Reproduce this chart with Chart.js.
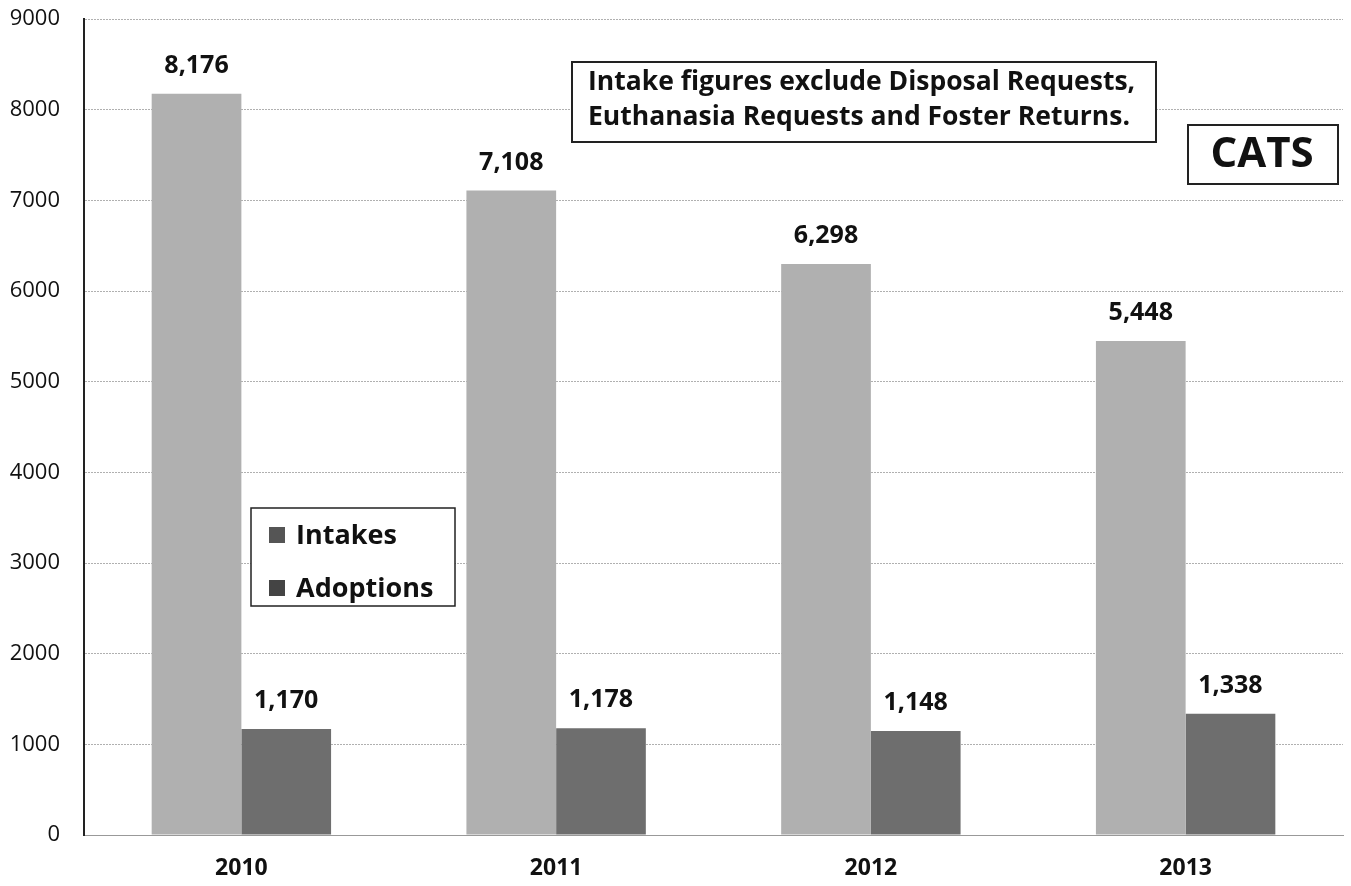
<!DOCTYPE html>
<html><head><meta charset="utf-8">
<script src="https://cdn.jsdelivr.net/npm/chart.js@4"></script>
<style>html,body{margin:0;padding:0;background:#fff}#wrap{width:1351px;height:886px}</style>
</head><body><div id="wrap"><canvas id="c" width="1351" height="886"></canvas></div>
<script>
const categories = ['2010','2011','2012','2013'];
const intakes = [8176, 7108, 6298, 5448];
const adoptions = [1170, 1178, 1148, 1338];
const seriesNames = ['Intakes','Adoptions'];
const yTicks = [0,1000,2000,3000,4000,5000,6000,7000,8000,9000];
const noteLines = ['Intake figures exclude Disposal Requests,','Euthanasia Requests and Foster Returns.'];
const badgeText = 'CATS';

const FONT = '"Open Sans", sans-serif';

const overlay = {
  id:'overlay',
  afterDatasetsDraw(chart){
    const ctx = chart.ctx;
    ctx.save();
    // data labels
    ctx.font = 'bold 25px ' + FONT;
    ctx.fillStyle = '#111';
    ctx.textAlign = 'center';
    ctx.textBaseline = 'middle';
    chart.data.datasets.forEach((ds,i)=>{
      chart.getDatasetMeta(i).data.forEach((bar,j)=>{
        ctx.fillText(ds.data[j].toLocaleString('en-US'), bar.x, bar.y - 28);
      });
    });
    // note box
    ctx.fillStyle='#fff';
    ctx.fillRect(572,62,584,80);
    ctx.strokeStyle='#222'; ctx.lineWidth=2;
    ctx.strokeRect(572,62,584,80);
    ctx.fillStyle='#111';
    ctx.textAlign='left';
    ctx.font='bold 26.5px ' + FONT;
    ctx.fillText(noteLines[0],588,82);
    ctx.fillText(noteLines[1],588,117);
    // badge
    ctx.fillStyle='#fff';
    ctx.fillRect(1188,125,150,59);
    ctx.strokeRect(1188,125,150,59);
    ctx.fillStyle='#111';
    ctx.textAlign='center';
    ctx.font='bold 42px ' + FONT;
    ctx.fillText(badgeText,1262,155);
    // legend
    ctx.fillStyle='#fff';
    ctx.fillRect(251,508,204,98);
    ctx.lineWidth=1.5;
    ctx.strokeRect(251,508,204,98);
    ctx.textAlign='left';
    ctx.font='bold 27px ' + FONT;
    const ly=[535,588];
    chart.data.datasets.forEach((ds,i)=>{
      ctx.fillStyle = ds.legendColor;
      ctx.fillRect(269,ly[i]-8,16,16);
      ctx.fillStyle='#111';
      ctx.fillText(ds.label,296,ly[i]+1);
    });
    ctx.restore();
  }
};

new Chart(document.getElementById('c'),{
  type:'bar',
  data:{
    labels:categories,
    datasets:[
      {label:seriesNames[0],data:intakes,backgroundColor:'#b0b0b0',legendColor:'#555',borderWidth:0},
      {label:seriesNames[1],data:adoptions,backgroundColor:'#6e6e6e',legendColor:'#444',borderWidth:0}
    ]
  },
  options:{
    responsive:false,
    animation:false,
    layout:{padding:{top:19,right:8,bottom:0,left:0}},
    plugins:{legend:{display:false},tooltip:{enabled:false}},
    datasets:{bar:{categoryPercentage:0.57,barPercentage:1.0}},
    scales:{
      x:{
        afterFit(s){s.height=51;},
        grid:{display:false,drawTicks:false},
        border:{color:'#999',width:1,dash:[2,2]},
        ticks:{padding:20,color:'#111',font:{family:FONT,size:23,weight:'bold'}}
      },
      y:{
        min:0,max:9000,
        afterFit(s){s.width=84; s.paddingTop=0; s.paddingBottom=0;},
        afterBuildTicks(s){s.ticks=yTicks.map(v=>({value:v}));},
        grid:{color:'#b0b0b0',lineWidth:1,drawTicks:false},
        border:{color:'#222',width:2,dash:[2,1]},
        ticks:{padding:24,color:'#111',font:{family:FONT,size:22},callback:v=>String(v)}
      }
    }
  },
  plugins:[overlay]
});
</script></body></html>
